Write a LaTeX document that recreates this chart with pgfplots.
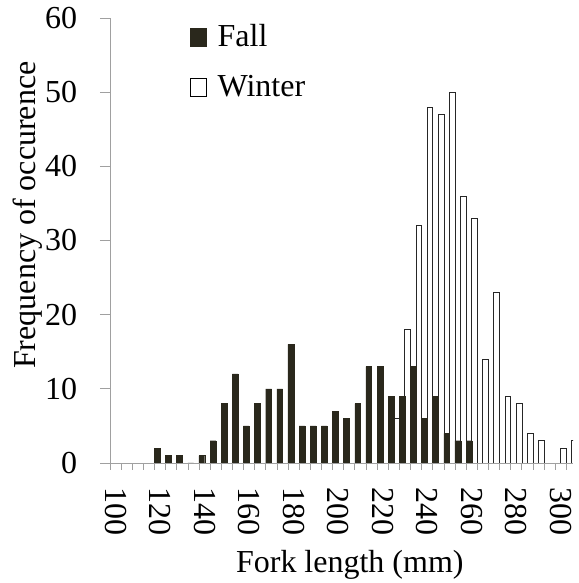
\documentclass[border=0pt]{standalone}
\usepackage{pgfplots}
\pgfplotsset{compat=1.18}
\usepackage{fontspec}
\setmainfont{Liberation Serif}
\definecolor{fallc}{RGB}{42,40,28}
\definecolor{axc}{RGB}{160,160,160}
\begin{document}
\fontsize{32pt}{38pt}\selectfont
\begin{tikzpicture}
\begin{axis}[
  scale only axis,
  width=463pt, height=445pt,
  xmin=97.5, xmax=305.5,
  ymin=0, ymax=60,
  clip=true,
  axis x line*=bottom, axis y line*=left,
  axis line style={axc, line width=0.8pt},
  every tick/.style={axc, line width=0.8pt},
  tick align=outside,
  xtick={100,120,...,300},
  major x tick style={draw=none},
  minor xtick={97.5,102.5,...,302.5},
  minor tick length=7pt,
  ytick={0,10,...,60},
  major tick length=10pt,
  /pgf/number format/assume math mode=true,
  x tick label style={rotate=-90, anchor=west, font=\fontsize{32pt}{38pt}\selectfont},
  xticklabel shift=4pt,
  y tick label style={font=\fontsize{32pt}{38pt}\selectfont},
  yticklabel shift=12pt,
  xlabel={Fork length (mm)},
  ylabel={Frequency of occurence},
  xlabel style={at={(axis description cs:0.518,-0.229)}, anchor=center, font=\fontsize{32pt}{38pt}\selectfont},
  ylabel style={at={(axis description cs:-0.178,0.557)}, anchor=center, font=\fontsize{32pt}{38pt}\selectfont},
  legend style={at={(axis description cs:0.172,0.99)}, anchor=north west, draw=none, fill=none,
    font=\fontsize{32pt}{38pt}\selectfont, row sep=20pt, inner sep=0pt,
    /tikz/every odd column/.append style={column sep=9pt}},
  legend cell align=left,
  legend image code/.code={\draw[#1] (0pt,-8pt) rectangle (16pt,10pt);},
]
\addlegendimage{fill=fallc, draw=fallc}
\addlegendentry{Fall}
\addlegendimage{fill=white, draw=black, line width=0.8pt}
\addlegendentry{Winter}
\addplot[ybar, bar width=2.6, bar shift=1.25, fill=white, draw=black!85, line width=0.8pt, forget plot] coordinates {
(225,6) (230,18) (235,32) (240,48) (245,47) (250,50) (255,36) (260,33) (265,14) (270,23) (275,9) (280,8) (285,4) (290,3) (295,0) (300,2) (305,3)
};
\addplot[ybar, bar width=2.6, bar shift=-1.25, fill=fallc, draw=fallc, forget plot] coordinates {
(120,2) (125,1) (130,1) (135,0) (140,1) (145,3) (150,8) (155,12) (160,5) (165,8) (170,10) (175,10) (180,16) (185,5) (190,5) (195,5) (200,7) (205,6) (210,8) (215,13) (220,13) (225,9) (230,9) (235,13) (240,6) (245,9) (250,4) (255,3) (260,3)
};
\end{axis}
\pgfresetboundingbox
\path ([xshift=-110pt,yshift=18pt]current axis.north west) rectangle ([xshift=5pt,yshift=-120pt]current axis.south east);
\end{tikzpicture}
\end{document}
